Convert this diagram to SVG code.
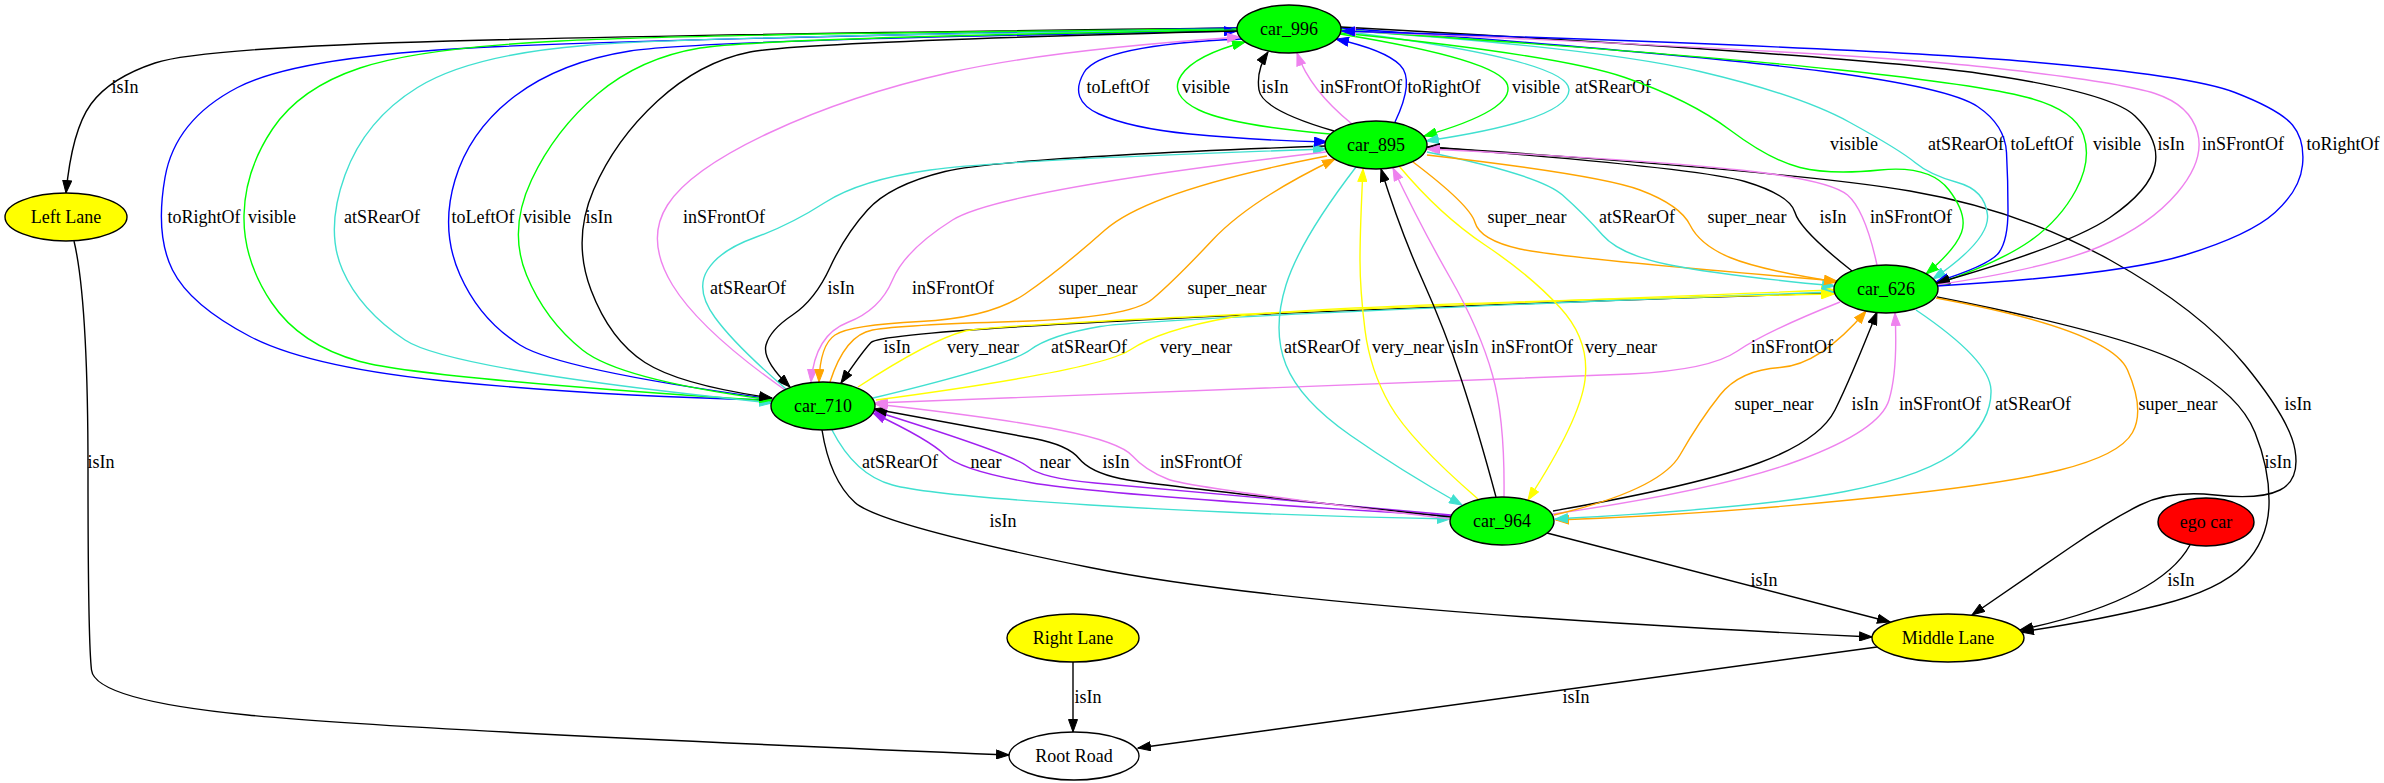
<svg xmlns="http://www.w3.org/2000/svg" width="2384" height="783" viewBox="0 0 2384 783">
<style>
text{font-family:"Liberation Serif","Times New Roman",serif;font-size:18px;fill:#000;text-anchor:middle}
.e path{fill:none;stroke-width:1.4}
.k{stroke:#000;marker-end:url(#mk)}
.b{stroke:#0000ff;marker-end:url(#mb)}
.g{stroke:#00ff00;marker-end:url(#mg)}
.c{stroke:#40e0d0;marker-end:url(#mc)}
.v{stroke:#ee82ee;marker-end:url(#mv)}
.o{stroke:#ffa500;marker-end:url(#mo)}
.y{stroke:#ffff00;marker-end:url(#my)}
.p{stroke:#a020f0;marker-end:url(#mp)}
.node ellipse{stroke:#000;stroke-width:1.4}
</style>
<defs>
<marker id="mk" viewBox="0 0 14 10" refX="13" refY="5" markerWidth="14" markerHeight="10" markerUnits="userSpaceOnUse" orient="auto-start-reverse"><path d="M0.5,0.5 L13,5 L0.5,9.5 Z" fill="#000" stroke="#000"/></marker>
<marker id="mb" viewBox="0 0 14 10" refX="13" refY="5" markerWidth="14" markerHeight="10" markerUnits="userSpaceOnUse" orient="auto-start-reverse"><path d="M0.5,0.5 L13,5 L0.5,9.5 Z" fill="#0000ff" stroke="#0000ff"/></marker>
<marker id="mg" viewBox="0 0 14 10" refX="13" refY="5" markerWidth="14" markerHeight="10" markerUnits="userSpaceOnUse" orient="auto-start-reverse"><path d="M0.5,0.5 L13,5 L0.5,9.5 Z" fill="#00ff00" stroke="#00ff00"/></marker>
<marker id="mc" viewBox="0 0 14 10" refX="13" refY="5" markerWidth="14" markerHeight="10" markerUnits="userSpaceOnUse" orient="auto-start-reverse"><path d="M0.5,0.5 L13,5 L0.5,9.5 Z" fill="#40e0d0" stroke="#40e0d0"/></marker>
<marker id="mv" viewBox="0 0 14 10" refX="13" refY="5" markerWidth="14" markerHeight="10" markerUnits="userSpaceOnUse" orient="auto-start-reverse"><path d="M0.5,0.5 L13,5 L0.5,9.5 Z" fill="#ee82ee" stroke="#ee82ee"/></marker>
<marker id="mo" viewBox="0 0 14 10" refX="13" refY="5" markerWidth="14" markerHeight="10" markerUnits="userSpaceOnUse" orient="auto-start-reverse"><path d="M0.5,0.5 L13,5 L0.5,9.5 Z" fill="#ffa500" stroke="#ffa500"/></marker>
<marker id="my" viewBox="0 0 14 10" refX="13" refY="5" markerWidth="14" markerHeight="10" markerUnits="userSpaceOnUse" orient="auto-start-reverse"><path d="M0.5,0.5 L13,5 L0.5,9.5 Z" fill="#ffff00" stroke="#ffff00"/></marker>
<marker id="mp" viewBox="0 0 14 10" refX="13" refY="5" markerWidth="14" markerHeight="10" markerUnits="userSpaceOnUse" orient="auto-start-reverse"><path d="M0.5,0.5 L13,5 L0.5,9.5 Z" fill="#a020f0" stroke="#a020f0"/></marker>
</defs>
<rect x="0" y="0" width="2384" height="783" fill="#fff"/>
<g id="edges" class="e">
<g id="e1"><path class="k" d="M1237,28 Q700,34 450,41 Q200,48 155,63 Q110,78 91,104 Q72,130 66,193"/><text x="125" y="93">isIn</text></g>
<g id="e2"><path class="k" d="M74,241 Q88,300 88,470 Q88,640 91.5,670 Q95,700 247.5,715 Q400,730 1009,755"/><text x="101" y="468">isIn</text></g>
<g id="e3"><path class="k" d="M1073,662 L1073,732"/><text x="1088" y="703">isIn</text></g>
<g id="e4"><path class="k" d="M1877,647 L1138,748"/><text x="1576" y="703">isIn</text></g>
<g id="e5"><path class="k" d="M1547,533 L1890,622"/><text x="1764" y="586">isIn</text></g>
<g id="e6"><path class="k" d="M2190,545 Q2160,600 2020,630"/><text x="2181" y="586">isIn</text></g>
<g id="e7"><path class="k" d="M1937,297 Q2130,335 2185,365 Q2240,395 2255,432.5 Q2270,470 2269,505 Q2268,540 2244,565 Q2220,590 2160,605 Q2100,620 2021,632"/><text x="2278" y="468">isIn</text></g>
<g id="e8"><path class="k" d="M1428,147 Q1800,172 1910,191 Q2020,210 2110,260 Q2200,310 2245,365 Q2290,420 2295,450 Q2300,480 2280,490 Q2260,500 2215,495 Q2170,490 2140,505 Q2110,520 2070,547.5 Q2030,575 1972,615"/><text x="2298" y="410">isIn</text></g>
<g id="e9"><path class="o" d="M1936,298 Q2110,330 2127.5,370 Q2145,410 2132.5,432.5 Q2120,455 2060,470 Q2000,485 1850,500 Q1700,515 1556,520"/><text x="2178" y="410">super_near</text></g>
<g id="e10"><path class="c" d="M1916,310 Q1990,360 1991,390 Q1992,420 1961,447.5 Q1930,475 1845,491.5 Q1760,508 1555,519"/><text x="2033" y="410">atSRearOf</text></g>
<g id="e11"><path class="v" d="M1553,514 Q1720,490 1800,460 Q1880,430 1889,400 Q1898,370 1895,313"/><text x="1940" y="410">inSFrontOf</text></g>
<g id="e12"><path class="k" d="M1553,511 Q1700,485 1760,462.5 Q1820,440 1835,410 Q1850,380 1877,312"/><text x="1865" y="410">isIn</text></g>
<g id="e13"><path class="o" d="M1554,515 Q1660,490 1680,455 Q1700,420 1720,395 Q1740,370 1780,367.5 Q1820,365 1866,311"/><text x="1774" y="410">super_near</text></g>
<g id="e14"><path class="v" d="M1840,302 Q1765,332 1737.5,351 Q1710,370 1630,374 Q1550,378 875,403"/><text x="1792" y="353">inSFrontOf</text></g>
<g id="e15"><path class="k" d="M1834,293 Q1400,307 1140,320 Q880,333 871,342.5 Q862,352 841,383"/><text x="897" y="353">isIn</text></g>
<g id="e16"><path class="y" d="M858,387 Q930,340 965,331 Q1000,322 1834,290"/><text x="983" y="353">very_near</text></g>
<g id="e17"><path class="c" d="M873,398 Q1010,365 1030,350 Q1050,335 1100,326.5 Q1150,318 1834,292"/><text x="1089" y="353">atSRearOf</text></g>
<g id="e18"><path class="y" d="M876,400 Q1100,370 1130,350 Q1160,330 1230,317.5 Q1300,305 1834,294"/><text x="1196" y="353">very_near</text></g>
<g id="e19"><path class="k" d="M1326,146 Q1000,158 945,171.5 Q890,185 867.5,210 Q845,235 830,267.5 Q815,300 792.5,315 Q770,330 766,345 Q762,360 790,387"/><text x="841" y="294">isIn</text></g>
<g id="e20"><path class="c" d="M786,389 Q735,345 715,317.5 Q695,290 707.5,270 Q720,250 755,237.5 Q790,225 825,202.5 Q860,180 930,170 Q1000,160 1326,149"/><text x="748" y="294">atSRearOf</text></g>
<g id="e21"><path class="v" d="M1326,152 Q1000,190 952.5,220 Q905,250 892.5,280 Q880,310 847.5,322.5 Q815,335 811,382"/><text x="953" y="294">inSFrontOf</text></g>
<g id="e22"><path class="o" d="M1327,156 Q1150,190 1105,230 Q1060,270 1025,294 Q990,318 920,321.5 Q850,325 835,335 Q820,345 819,382"/><text x="1098" y="294">super_near</text></g>
<g id="e23"><path class="o" d="M830,382 Q845,335 872.5,330 Q900,325 1015,321.5 Q1130,318 1152.5,299 Q1175,280 1212.5,240 Q1250,200 1335,159"/><text x="1227" y="294">super_near</text></g>
<g id="e24"><path class="b" d="M1242,39 Q1100,45 1084,72.5 Q1068,100 1099,114 Q1130,128 1190,134 Q1250,140 1327,142"/><text x="1118" y="93">toLeftOf</text></g>
<g id="e25"><path class="g" d="M1330,134 Q1230,125 1199,110 Q1168,95 1181.5,75 Q1195,55 1245,42"/><text x="1206" y="93">visible</text></g>
<g id="e26"><path class="k" d="M1334,131 Q1262,110 1259,90 Q1256,70 1268,52"/><text x="1275" y="93">isIn</text></g>
<g id="e27"><path class="v" d="M1352,124 Q1310,90 1297,53"/><text x="1361" y="93">inSFrontOf</text></g>
<g id="e28"><path class="b" d="M1395,122 Q1415,80 1400,65 Q1385,50 1336,39"/><text x="1444" y="93">toRightOf</text></g>
<g id="e29"><path class="g" d="M1340,34 Q1500,60 1507.5,85 Q1515,110 1424,136"/><text x="1536" y="93">visible</text></g>
<g id="e30"><path class="c" d="M1341,31 Q1570,60 1569,90 Q1568,120 1426,141"/><text x="1613" y="93">atSRearOf</text></g>
<g id="e31"><path class="k" d="M1852,271 Q1800,230 1795,212.5 Q1790,195 1745,181.5 Q1700,168 1427,147"/><text x="1833" y="223">isIn</text></g>
<g id="e32"><path class="v" d="M1877,265 Q1865,210 1847.5,195 Q1830,180 1740,170 Q1650,160 1427,149"/><text x="1911" y="223">inSFrontOf</text></g>
<g id="e33"><path class="o" d="M1413,162 Q1470,205 1475,222.5 Q1480,240 1520,249 Q1560,258 1837,281"/><text x="1527" y="223">super_near</text></g>
<g id="e34"><path class="c" d="M1427,152 Q1540,175 1562.5,195 Q1585,215 1602.5,235 Q1620,255 1670,265 Q1720,275 1835,286"/><text x="1637" y="223">atSRearOf</text></g>
<g id="e35"><path class="o" d="M1427,155 Q1600,175 1640,190 Q1680,205 1690,225 Q1700,245 1730,257.5 Q1760,270 1837,282"/><text x="1747" y="223">super_near</text></g>
<g id="e36"><path class="g" d="M1341,33 Q1560,55 1625,77.5 Q1690,100 1730,130 Q1770,160 1800,167.5 Q1830,175 1880,170 Q1930,165 1949,190 Q1968,215 1961.5,232.5 Q1955,250 1926,274"/><text x="1854" y="150">visible</text></g>
<g id="e37"><path class="c" d="M1341,30 Q1600,48 1700,71.5 Q1800,95 1850,122.5 Q1900,150 1915,162.5 Q1930,175 1957.5,182.5 Q1985,190 1987.5,215 Q1990,240 1933,279"/><text x="1966" y="150">atSRearOf</text></g>
<g id="e38"><path class="b" d="M1341,28 Q1700,55 1825,71.5 Q1950,88 1977.5,106.5 Q2005,125 2006.5,152.5 Q2008,180 2008,210 Q2008,240 1999,252.5 Q1990,265 1936,282"/><text x="2042" y="150">toLeftOf</text></g>
<g id="e39"><path class="g" style="marker-end:none;marker-start:url(#mg)" d="M1937,284 Q2000,262 2030,241 Q2060,220 2076,190 Q2092,160 2083.5,135 Q2075,110 2027.5,97.5 Q1980,85 1840,70 Q1700,55 1341,30"/><text x="2117" y="150">visible</text></g>
<g id="e40"><path class="k" d="M1341,27 Q1850,55 1980,73.5 Q2110,92 2135,116 Q2160,140 2155,165 Q2150,190 2110,217.5 Q2070,245 1937,283"/><text x="2171" y="150">isIn</text></g>
<g id="e41"><path class="v" d="M1936,285 Q2050,268 2100,246.5 Q2150,225 2177.5,192.5 Q2205,160 2197.5,132.5 Q2190,105 2155,93.5 Q2120,82 1985,67 Q1850,52 1343,31"/><text x="2243" y="150">inSFrontOf</text></g>
<g id="e42"><path class="b" d="M1937,286 Q2120,275 2185,255 Q2250,235 2275,212.5 Q2300,190 2302.5,165 Q2305,140 2292.5,125 Q2280,110 2235,92.5 Q2190,75 2020,61 Q1850,47 1342,31"/><text x="2343" y="150">toRightOf</text></g>
<g id="e43"><path class="c" d="M1356,167 Q1300,240 1286,285 Q1272,330 1286,365 Q1300,400 1350,435 Q1400,470 1462,505"/><text x="1322" y="353">atSRearOf</text></g>
<g id="e44"><path class="y" d="M1478,499 Q1410,440 1390,405 Q1370,370 1365,330 Q1360,290 1360,260 Q1360,230 1363,169"/><text x="1408" y="353">very_near</text></g>
<g id="e45"><path class="k" d="M1496,497 Q1478,430 1461.5,380 Q1445,330 1422.5,280 Q1400,230 1381,169"/><text x="1465" y="353">isIn</text></g>
<g id="e46"><path class="v" d="M1504,497 Q1505,420 1492.5,375 Q1480,330 1450,277.5 Q1420,225 1393,168"/><text x="1532" y="353">inSFrontOf</text></g>
<g id="e47"><path class="y" d="M1399,166 Q1440,215 1485,245 Q1530,275 1560,307.5 Q1590,340 1585,380 Q1580,420 1528,500"/><text x="1621" y="353">very_near</text></g>
<g id="e48"><path class="c" d="M832,430 Q855,475 892.5,485 Q930,495 1090,505 Q1250,515 1450,519"/><text x="900" y="468">atSRearOf</text></g>
<g id="e49"><path class="p" d="M1451,516 Q1100,495 1030,482.5 Q960,470 945,455 Q930,440 873,413"/><text x="986" y="468">near</text></g>
<g id="e50"><path class="p" d="M1451,515 Q1150,488 1095,483 Q1040,478 1027.5,466.5 Q1015,455 874,411"/><text x="1055" y="468">near</text></g>
<g id="e51"><path class="k" d="M1451,517 Q1150,485 1120,478.5 Q1090,472 1079,458.5 Q1068,445 1034,438.5 Q1000,432 874,409"/><text x="1116" y="468">isIn</text></g>
<g id="e52"><path class="v" d="M1451,519 Q1190,488 1167.5,479 Q1145,470 1132.5,456 Q1120,442 1060,430 Q1000,418 875,404"/><text x="1201" y="468">inSFrontOf</text></g>
<g id="e53"><path class="k" d="M822,430 Q830,480 855,502.5 Q880,525 1090,567.5 Q1300,610 1872,637"/><text x="1003" y="527">isIn</text></g>
<g id="a1"><path class="b" d="M1237,28 Q700,38 500,46.5 Q300,55 237.5,87.5 Q175,120 165,177.5 Q155,235 172.5,270 Q190,305 250,336.5 Q310,368 455,382 Q600,396 772,400"/><text x="204" y="223">toRightOf</text></g>
<g id="a2"><path class="g" d="M1237,29 Q700,34 560,41 Q420,48 360,68 Q300,88 272.5,129 Q245,170 244,215 Q243,260 271.5,302.5 Q300,345 360,361.5 Q420,378 772,401"/><text x="272" y="223">visible</text></g>
<g id="a3"><path class="c" d="M1237,30 Q700,36 585,45.5 Q470,55 417.5,87.5 Q365,120 345,175 Q325,230 342.5,270 Q360,310 405,340 Q450,370 772,403"/><text x="382" y="223">atSRearOf</text></g>
<g id="a4"><path class="b" style="marker-end:none;marker-start:url(#mb)" d="M1237,31 Q700,40 630,51 Q560,62 515,96 Q470,130 455,180 Q440,230 460,275 Q480,320 520,345 Q560,370 772,399"/><text x="483" y="223">toLeftOf</text></g>
<g id="a5"><path class="g" d="M1237,30 Q760,38 700,48 Q640,58 597.5,94 Q555,130 531.5,180 Q508,230 526.5,275 Q545,320 582.5,350 Q620,380 772,400"/><text x="547" y="223">visible</text></g>
<g id="a6"><path class="k" d="M1237,31 Q800,42 750,52 Q700,62 657.5,101 Q615,140 593.5,190 Q572,240 591,290 Q610,340 645,362.5 Q680,385 772,398"/><text x="599" y="223">isIn</text></g>
<g id="a7"><path class="v" d="M785,390 Q700,330 672.5,285 Q645,240 667.5,205 Q690,170 770,132.5 Q850,95 950,72.5 Q1050,50 1240,37"/><text x="724" y="223">inSFrontOf</text></g>
</g>
<g id="nodes">
<g id="car_996" class="node"><ellipse cx="1289" cy="29" rx="52" ry="24" fill="#00ff00"/><text x="1289" y="35">car_996</text></g>
<g id="car_895" class="node"><ellipse cx="1376" cy="145" rx="51" ry="24" fill="#00ff00"/><text x="1376" y="151">car_895</text></g>
<g id="car_626" class="node"><ellipse cx="1886" cy="289" rx="52" ry="24" fill="#00ff00"/><text x="1886" y="295">car_626</text></g>
<g id="car_710" class="node"><ellipse cx="823" cy="406" rx="52" ry="24" fill="#00ff00"/><text x="823" y="412">car_710</text></g>
<g id="car_964" class="node"><ellipse cx="1502" cy="521" rx="52" ry="24" fill="#00ff00"/><text x="1502" y="527">car_964</text></g>
<g id="left_lane" class="node"><ellipse cx="66" cy="217" rx="61" ry="24" fill="#ffff00"/><text x="66" y="223">Left Lane</text></g>
<g id="ego_car" class="node"><ellipse cx="2206" cy="522" rx="48" ry="24" fill="#ff0000"/><text x="2206" y="528">ego car</text></g>
<g id="middle_lane" class="node"><ellipse cx="1948" cy="638" rx="76" ry="24" fill="#ffff00"/><text x="1948" y="644">Middle Lane</text></g>
<g id="right_lane" class="node"><ellipse cx="1073" cy="638" rx="66" ry="24" fill="#ffff00"/><text x="1073" y="644">Right Lane</text></g>
<g id="root_road" class="node"><ellipse cx="1074" cy="756" rx="65" ry="24" fill="#ffffff"/><text x="1074" y="762">Root Road</text></g>
</g>
</svg>
